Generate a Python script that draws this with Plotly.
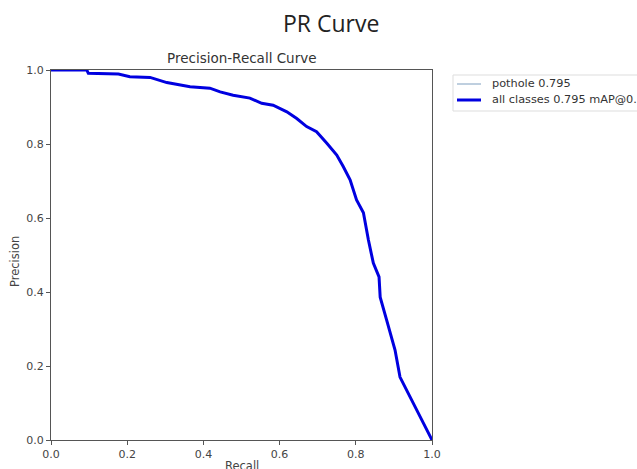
import plotly.graph_objects as go

# Data
recall = [0.0, 0.094, 0.098, 0.177, 0.207, 0.260, 0.304, 0.339, 0.365, 0.417, 0.444,
          0.478, 0.522, 0.553, 0.583, 0.619, 0.645, 0.671, 0.697, 0.724, 0.750, 0.767,
          0.785, 0.802, 0.820, 0.833, 0.846, 0.861, 0.864, 0.881, 0.903, 0.916, 0.924,
          0.942, 0.960, 1.0]
precision = [1.0, 1.0, 0.991, 0.989, 0.982, 0.980, 0.966, 0.959, 0.955, 0.951, 0.941,
             0.932, 0.924, 0.910, 0.905, 0.887, 0.869, 0.847, 0.833, 0.802, 0.770, 0.739,
             0.703, 0.649, 0.614, 0.541, 0.478, 0.441, 0.386, 0.324, 0.243, 0.170, 0.154,
             0.116, 0.080, 0.0]
legend_labels = ["pothole 0.795", "all classes 0.795 mAP@0.5"]
tick_vals = [0.0, 0.2, 0.4, 0.6, 0.8, 1.0]
tick_text = ["0.0", "0.2", "0.4", "0.6", "0.8", "1.0"]

W, H = 637, 469
L, R, T, B = 51, 432, 70, 440


def px(x):
    return (x - L) / (R - L)


def py(y):
    return (B - y) / (B - T)


fig = go.Figure()
fig.add_trace(go.Scatter(x=recall, y=precision, mode="lines",
                         line=dict(color="#7f9fbf", width=1), name=legend_labels[0]))
fig.add_trace(go.Scatter(x=recall, y=precision, mode="lines",
                         line=dict(color="#0000e0", width=3), name=legend_labels[1]))

axis_common = dict(range=[0, 1], tickvals=tick_vals, ticktext=tick_text,
                   showgrid=False, zeroline=False, showline=True, mirror=True,
                   linecolor="#555555", linewidth=1, ticks="outside", ticklen=4,
                   tickcolor="#555555", tickfont=dict(family="DejaVu Sans", size=11, color="#444444"))
fig.update_xaxes(**axis_common)
fig.update_yaxes(**axis_common)

font_mpl = "DejaVu Sans"
ann = [
    dict(text="PR Curve", x=px(331), y=py(23), font=dict(family="Open Sans", size=23, color="#222222")),
    dict(text="Precision-Recall Curve", x=px(241.5), y=py(58), font=dict(family=font_mpl, size=13.5, color="#333333")),
    dict(text="Recall", x=px(241.5), y=py(466), font=dict(family=font_mpl, size=11.5, color="#444444")),
    dict(text="Precision", x=px(15), y=py(262), textangle=-90, font=dict(family=font_mpl, size=11.5, color="#444444")),
]
annotations = []
for a in ann:
    a.update(xref="paper", yref="paper", showarrow=False, xanchor="center", yanchor="middle")
    annotations.append(a)

# Manual legend (the reference legend is cut off at the right edge)
leg_rows = [84, 100]
leg_styles = [dict(color="#7f9fbf", width=1), dict(color="#0000e0", width=3)]
shapes = [dict(type="rect", xref="paper", yref="paper", x0=px(453), x1=px(660), y0=py(75), y1=py(111),
               line=dict(color="#dddddd", width=1), fillcolor="white", layer="above")]
for row, lab, st in zip(leg_rows, legend_labels, leg_styles):
    shapes.append(dict(type="line", xref="paper", yref="paper", x0=px(457), x1=px(481),
                       y0=py(row), y1=py(row), line=st, layer="above"))
    annotations.append(dict(text=lab, xref="paper", yref="paper", x=px(490), y=py(row),
                            xanchor="left", yanchor="middle", showarrow=False,
                            font=dict(family=font_mpl, size=11.3, color="#333333")))

fig.update_layout(width=W, height=H, margin=dict(l=L, r=W - R, t=T, b=H - B, autoexpand=False),
                  paper_bgcolor="white", plot_bgcolor="white", showlegend=False,
                  annotations=annotations, shapes=shapes)
fig.write_html("out.html", config={"displayModeBar": False},
               post_script="document.body.style.margin='0';document.body.style.overflow='hidden';")
